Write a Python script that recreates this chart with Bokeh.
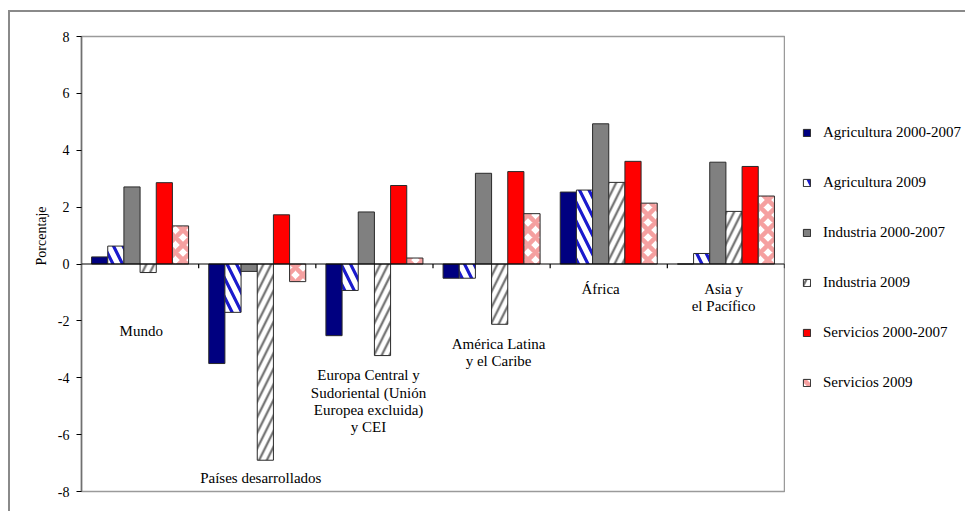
from bokeh.plotting import figure
from bokeh.layouts import row
from bokeh.models import (Range1d, FixedTicker, Span, Legend, LegendItem, ColumnDataSource, Title)
from bokeh.core.properties import value
from bokeh.embed import file_html
from bokeh.resources import INLINE

# Regions (x-axis groups)
groups = ["Mundo", "Países desarrollados",
          "Europa Central y\nSudoriental (Unión\nEuropea excluida)\ny CEI",
          "América Latina\ny el Caribe", "África", "Asia y\nel Pacífico"]

# Series names
series = ["Agricultura 2000-2007", "Agricultura 2009",
          "Industria 2000-2007", "Industria 2009",
          "Servicios 2000-2007", "Servicios 2009"]

# Growth of employment by sector (percentage)
agri_0007 = [0.25, -3.50, -2.52, -0.50, 2.53, 0.00]
agri_2009 = [0.63, -1.70, -0.93, -0.50, 2.60, 0.37]
ind_0007 = [2.71, -0.26, 1.83, 3.19, 4.93, 3.58]
ind_2009 = [-0.30, -6.90, -3.22, -2.12, 2.87, 1.85]
serv_0007 = [2.86, 1.73, 2.76, 3.25, 3.61, 3.43]
serv_2009 = [1.34, -0.62, 0.21, 1.77, 2.14, 2.39]

y_ticks = [-8, -6, -4, -2, 0, 2, 4, 6, 8]

values = [agri_0007, agri_2009, ind_0007, ind_2009, serv_0007, serv_2009]

# Where each region's caption sits (group-relative x, y in axis units)
label_pos = [(0.51, -2.36), (1.53, -7.54), (2.45, -3.92),
             (3.56, -2.82), (4.43, -0.88), (5.48, -0.88)]

SERIF = "Liberation Serif"

styles = [
    dict(fill_color="#000080"),
    dict(fill_color="white", hatch_pattern="left_diagonal_line", hatch_color="#1a1acc",
         hatch_weight=3.2, hatch_scale=19),
    dict(fill_color="#808080"),
    dict(fill_color="white", hatch_pattern="right_diagonal_line", hatch_color="#6e6e6e",
         hatch_weight=2.2, hatch_scale=15.6),
    dict(fill_color="#ff0000"),
    dict(fill_color="white", hatch_pattern="diagonal_cross", hatch_color="#f5a0a0",
         hatch_weight=4.5, hatch_scale=15),
]

# ---- main chart -------------------------------------------------------------
p = figure(width=775, height=499, x_range=Range1d(0, 6), y_range=Range1d(-8, 8),
           output_backend="svg", toolbar_location=None,
           min_border_left=71, min_border_right=1, min_border_top=24, min_border_bottom=20)

p.outline_line_color = "#9a9a9a"
p.outline_line_width = 1.5
p.xgrid.visible = False
p.ygrid.visible = False
p.xaxis.visible = False

yax = p.yaxis[0]
yax.ticker = FixedTicker(ticks=y_ticks)
yax.major_label_overrides = {t: str(t) for t in y_ticks}
yax.minor_tick_line_color = None
yax.major_tick_in = 0
yax.major_tick_out = 5
yax.major_tick_line_color = "black"
yax.axis_line_color = "#707070"
yax.axis_line_width = 1.5
yax.major_label_text_font = SERIF
yax.major_label_text_font_size = "14px"
yax.major_label_text_color = "black"
yax.major_label_standoff = 7

# y-axis caption, set slightly above the middle of the axis
ylab = Title(text="Porcentaje", align="left", offset=226, standoff=11,
             text_font=SERIF, text_font_size="14px", text_font_style="normal",
             text_color="black")
p.add_layout(ylab, "left")

bar_w = 0.138
for k, (vals, st) in enumerate(zip(values, styles)):
    xs = [i + 0.5 + (k - 2.5) * bar_w for i in range(len(groups))]
    src = ColumnDataSource(dict(x=xs, top=vals))
    p.vbar(x="x", top="top", bottom=0, width=bar_w, source=src,
           line_color="#2a2a2a", line_width=1, **st)

# zero line and group separators on it
p.add_layout(Span(location=0, dimension="width", line_color="black", line_width=1.2))
p.segment(x0=list(range(1, 7)), y0=[0] * 6, x1=list(range(1, 7)), y1=[-0.15] * 6,
          line_color="black", line_width=1.2)

# region captions
tx, ty, tt = [], [], []
for g, (lx, ly) in zip(groups, label_pos):
    for j, line in enumerate(g.split("\n")):
        tx.append(lx)
        ty.append(ly - j * 0.6)
        tt.append(line)
p.text(x=tx, y=ty, text=tt, text_font=value(SERIF), text_font_size="15px",
       text_align="center", text_baseline="middle", text_color="black")

# ---- legend panel -----------------------------------------------------------
pl = figure(width=180, height=499, x_range=Range1d(0, 1), y_range=Range1d(0, 1),
            output_backend="svg", toolbar_location=None, min_border=0)
pl.axis.visible = False
pl.grid.visible = False
pl.outline_line_color = None

items = []
for name, st in zip(series, styles):
    # swatch renderers: one bar parked outside the visible range
    r = pl.vbar(x=[5], top=[5], bottom=4, width=0.1, line_color="#2a2a2a", line_width=1, **st)
    items.append(LegendItem(label=name, renderers=[r]))

legend = Legend(items=items, location=(17, 99), orientation="vertical",
                glyph_width=9, glyph_height=9, label_height=20, spacing=30,
                padding=0, margin=0, label_standoff=12,
                label_text_font=SERIF, label_text_font_size="15px",
                label_text_color="black",
                border_line_color=None, background_fill_alpha=0)
pl.add_layout(legend)

layout = row(p, pl, spacing=0, margin=(10, 0, 0, 8),
             styles={"border-top": "2px solid #8a8a8a", "border-left": "2px solid #8a8a8a"})

open("out.html", "w").write(file_html(layout, INLINE))
